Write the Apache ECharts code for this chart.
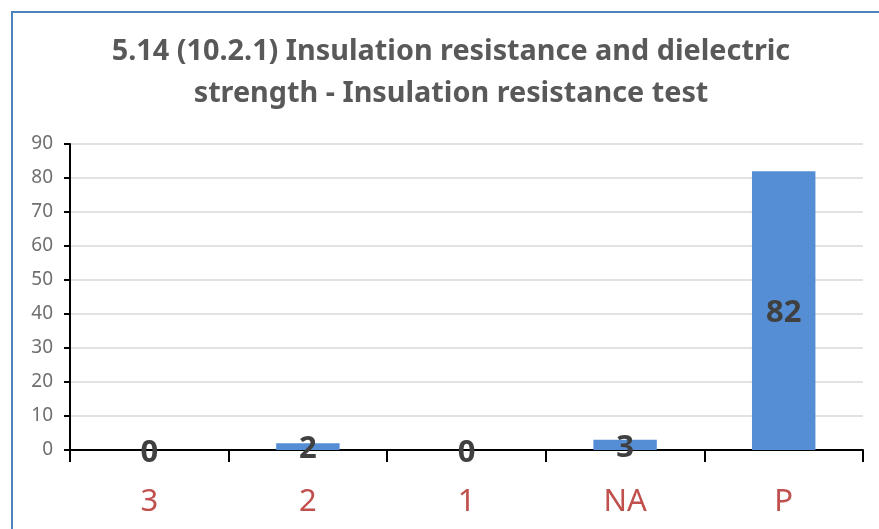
<!DOCTYPE html>
<html><head><meta charset="utf-8">
<script src="https://cdn.jsdelivr.net/npm/echarts@6/dist/echarts.min.js"></script>
<style>html,body{margin:0;padding:0;background:#fff}#c{width:879px;height:529px}</style>
</head><body><div id="c"></div>
<script>
const titleText = "5.14 (10.2.1) Insulation resistance and dielectric\nstrength - Insulation resistance test";
const categories = ["3", "2", "1", "NA", "P"];
const values = [0, 2, 0, 3, 82];
const yMin = 0, yMax = 90, yInterval = 10;

const chart = echarts.init(document.getElementById('c'), null, {renderer: 'canvas'});
chart.setOption({
  animation: false,
  backgroundColor: '#fff',
  graphic: [{
    type: 'rect', shape: {x: 12, y: 12, width: 900, height: 600},
    style: {fill: 'none', stroke: '#4F81BD', lineWidth: 2}, silent: true
  }],
  title: {
    text: titleText, left: 446, top: 26, textAlign: 'center',
    textStyle: {fontFamily: '"Noto Sans"', fontWeight: 'bold', fontSize: 28.8, color: '#595959', lineHeight: 42}
  },
  grid: {left: 70, right: 16, top: 144, bottom: 79, containLabel: false},
  xAxis: {
    type: 'category', data: categories, boundaryGap: true,
    axisLine: {lineStyle: {color: '#000', width: 2}},
    axisTick: {show: true, length: 12, lineStyle: {color: '#000', width: 2}, alignWithLabel: false},
    axisLabel: {color: '#C0504D', fontSize: 31, fontFamily: '"Noto Sans"', margin: 37}
  },
  yAxis: {
    type: 'value', min: yMin, max: yMax, interval: yInterval,
    axisLine: {show: true, lineStyle: {color: '#000', width: 2}},
    axisTick: {show: true, length: 6, lineStyle: {color: '#000', width: 2}},
    axisLabel: {color: '#6f6f6f', fontSize: 19, fontFamily: '"Noto Sans"', margin: 17},
    splitLine: {lineStyle: {color: '#D9D9D9', width: 1.5}}
  },
  series: [{
    type: 'bar', data: values, barWidth: '40%',
    itemStyle: {color: '#558ED5'},
    label: {show: true, position: 'inside', color: '#404040', fontSize: 31, fontWeight: 'bold', fontFamily: '"Noto Sans"', offset: [0, 3]}
  }]
});
</script></body></html>
